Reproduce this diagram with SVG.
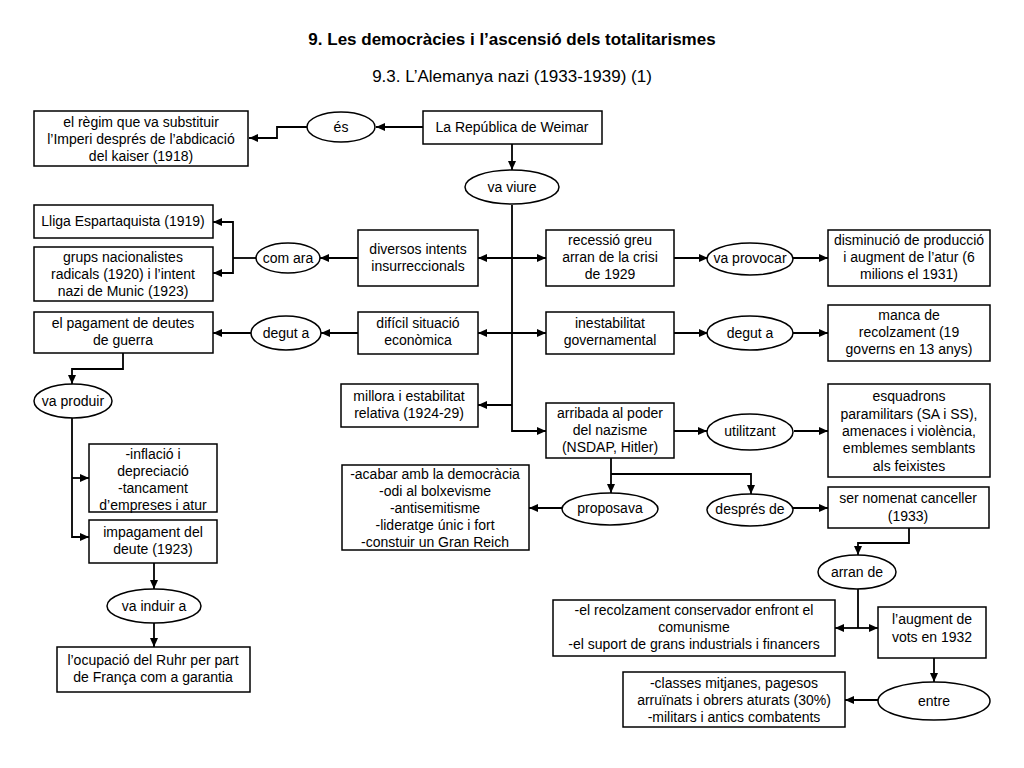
<svg xmlns="http://www.w3.org/2000/svg" width="1024" height="768" viewBox="0 0 1024 768">
<style>
.b{fill:#fff;stroke:#000;stroke-width:1.5}
.t{font-family:"Liberation Sans",Arial,sans-serif;font-size:14px;text-anchor:middle;fill:#000}
.h{font-family:"Liberation Sans",Arial,sans-serif;font-size:17px;text-anchor:middle;fill:#000}
.c{fill:none;stroke:#000;stroke-width:1.8}
.a{marker-end:url(#ah)}
</style>
<defs>
<marker id="ah" markerUnits="userSpaceOnUse" markerWidth="10" markerHeight="10" refX="9" refY="4" orient="auto" viewBox="0 0 10 8">
<path d="M0,0 L9,4 L0,8 Z" fill="#000"/>
</marker>
</defs>
<rect width="1024" height="768" fill="#fff"/>
<text class="h" x="512" y="45" font-weight="bold">9. Les democràcies i l’ascensió dels totalitarismes</text>
<text class="h" x="512" y="82">9.3. L’Alemanya nazi (1933-1939) (1)</text>

<g id="connectors">
<path class="c a" d="M423,127 H376"/>
<path class="c a" d="M307,127 H277 V138 H249"/>
<path class="c a" d="M512,144 V170"/>
<path class="c a" d="M512,205 V431 H546"/>
<path class="c a" d="M512,258 H478"/>
<path class="c a" d="M512,258 H546"/>
<path class="c a" d="M512,333 H478"/>
<path class="c a" d="M512,333 H546"/>
<path class="c a" d="M512,405 H478"/>
<path class="c a" d="M358,258 H320"/>
<path class="c" d="M256,258 H233"/>
<path class="c a" d="M233,258 V222 H213"/>
<path class="c a" d="M233,258 V273 H213"/>
<path class="c a" d="M674,258 H708"/>
<path class="c a" d="M793,258 H828"/>
<path class="c a" d="M674,333 H708"/>
<path class="c a" d="M793,333 H828"/>
<path class="c a" d="M358,333 H321"/>
<path class="c a" d="M251,333 H213"/>
<path class="c a" d="M123,353 V369 H72 V384"/>
<path class="c a" d="M72,418 V537 H89"/>
<path class="c a" d="M72,478 H89"/>
<path class="c a" d="M154,563 V589"/>
<path class="c a" d="M154,623 V647"/>
<path class="c a" d="M674,431 H707"/>
<path class="c a" d="M794,431 H828"/>
<path class="c a" d="M611,458 V493"/>
<path class="c a" d="M611,474 H751 V494"/>
<path class="c a" d="M562,508 H529"/>
<path class="c a" d="M793,508 H828"/>
<path class="c a" d="M909,528 V543 H858 V555"/>
<path class="c" d="M858,589 V628"/>
<path class="c a" d="M858,628 H835"/>
<path class="c a" d="M858,628 H878"/>
<path class="c a" d="M934,658 V682"/>
<path class="c a" d="M878,700 H845"/>
</g>

<g id="weimar"><rect class="b" x="423" y="111" width="179" height="33"/><text class="t" x="512" y="132">La República de Weimar</text></g>
<g id="es"><ellipse class="b" cx="341" cy="127" rx="34" ry="15"/><text class="t" x="341" y="132">és</text></g>
<g id="regim"><rect class="b" x="34" y="111" width="214" height="55"/>
<text class="t" x="141" y="127">el règim que va substituir</text>
<text class="t" x="141" y="144">l’Imperi després de l’abdicació</text>
<text class="t" x="141" y="161">del kaiser (1918)</text></g>
<g id="vaviure"><ellipse class="b" cx="512" cy="187" rx="47" ry="17"/><text class="t" x="512" y="192">va viure</text></g>

<g id="diversos"><rect class="b" x="358" y="230" width="120" height="56"/>
<text class="t" x="418" y="254">diversos intents</text>
<text class="t" x="418" y="271">insurreccionals</text></g>
<g id="comara"><ellipse class="b" cx="288" cy="258" rx="32" ry="15"/><text class="t" x="288" y="263">com ara</text></g>
<g id="lliga"><rect class="b" x="34" y="205" width="179" height="33"/><text class="t" x="123" y="226">Lliga Espartaquista (1919)</text></g>
<g id="grups"><rect class="b" x="34" y="247" width="179" height="54"/>
<text class="t" x="123" y="262">grups nacionalistes</text>
<text class="t" x="123" y="279">radicals (1920) i l’intent</text>
<text class="t" x="123" y="296">nazi de Munic (1923)</text></g>

<g id="recessio"><rect class="b" x="546" y="230" width="128" height="56"/>
<text class="t" x="610" y="245">recessió greu</text>
<text class="t" x="610" y="262">arran de la crisi</text>
<text class="t" x="610" y="279">de 1929</text></g>
<g id="vaprovocar"><ellipse class="b" cx="750" cy="259" rx="43" ry="16"/><text class="t" x="750" y="263">va provocar</text></g>
<g id="disminucio"><rect class="b" x="828" y="230" width="162" height="56"/>
<text class="t" x="909" y="245">disminució de producció</text>
<text class="t" x="909" y="262">i augment de l’atur (6</text>
<text class="t" x="909" y="279">milions el 1931)</text></g>

<g id="dificil"><rect class="b" x="358" y="312" width="120" height="42"/>
<text class="t" x="418" y="328">difícil situació</text>
<text class="t" x="418" y="345">econòmica</text></g>
<g id="degut1"><ellipse class="b" cx="286" cy="333" rx="35" ry="17"/><text class="t" x="286" y="338">degut a</text></g>
<g id="pagament"><rect class="b" x="34" y="312" width="179" height="41"/>
<text class="t" x="123" y="328">el pagament de deutes</text>
<text class="t" x="123" y="345">de guerra</text></g>
<g id="inestabilitat"><rect class="b" x="546" y="312" width="128" height="42"/>
<text class="t" x="610" y="328">inestabilitat</text>
<text class="t" x="610" y="345">governamental</text></g>
<g id="degut2"><ellipse class="b" cx="750" cy="333" rx="43" ry="17"/><text class="t" x="750" y="338">degut a</text></g>
<g id="manca"><rect class="b" x="828" y="305" width="162" height="56"/>
<text class="t" x="909" y="320">manca de</text>
<text class="t" x="909" y="337">recolzament (19</text>
<text class="t" x="909" y="354">governs en 13 anys)</text></g>

<g id="vaproduir"><ellipse class="b" cx="73" cy="401" rx="39" ry="17"/><text class="t" x="73" y="406">va produir</text></g>
<g id="inflacio"><rect class="b" x="89" y="444" width="128" height="68"/>
<text class="t" x="153" y="459">-inflació i</text>
<text class="t" x="153" y="476">depreciació</text>
<text class="t" x="153" y="493">-tancament</text>
<text class="t" x="153" y="510">d’empreses i atur</text></g>
<g id="impagament"><rect class="b" x="89" y="520" width="128" height="43"/>
<text class="t" x="153" y="537">impagament del</text>
<text class="t" x="153" y="554">deute (1923)</text></g>
<g id="vainduir"><ellipse class="b" cx="154" cy="606" rx="47" ry="17"/><text class="t" x="154" y="611">va induir a</text></g>
<g id="ocupacio"><rect class="b" x="57" y="647" width="193" height="45"/>
<text class="t" x="153" y="665">l’ocupació del Ruhr per part</text>
<text class="t" x="153" y="682">de França com a garantia</text></g>

<g id="millora"><rect class="b" x="341" y="384" width="137" height="43"/>
<text class="t" x="409" y="401">millora i estabilitat</text>
<text class="t" x="409" y="418">relativa (1924-29)</text></g>
<g id="arribada"><rect class="b" x="546" y="403" width="128" height="55"/>
<text class="t" x="610" y="418">arribada al poder</text>
<text class="t" x="610" y="435">del nazisme</text>
<text class="t" x="610" y="452">(NSDAP, Hitler)</text></g>
<g id="utilitzant"><ellipse class="b" cx="750" cy="432" rx="43" ry="18"/><text class="t" x="750" y="436">utilitzant</text></g>
<g id="esquadrons"><rect class="b" x="828" y="384" width="162" height="93"/>
<text class="t" x="909" y="401">esquadrons</text>
<text class="t" x="909" y="419">paramilitars (SA i SS),</text>
<text class="t" x="909" y="436">amenaces i violència,</text>
<text class="t" x="909" y="453">emblemes semblants</text>
<text class="t" x="909" y="471">als feixistes</text></g>

<g id="proposava"><ellipse class="b" cx="610" cy="509" rx="48" ry="16"/><text class="t" x="610" y="513">proposava</text></g>
<g id="acabar"><rect class="b" x="342" y="465" width="187" height="85"/>
<text class="t" x="435" y="479">-acabar amb la democràcia</text>
<text class="t" x="435" y="496">-odi al bolxevisme</text>
<text class="t" x="435" y="513">-antisemitisme</text>
<text class="t" x="435" y="530">-lideratge únic i fort</text>
<text class="t" x="435" y="547">-constuir un Gran Reich</text></g>
<g id="despres"><ellipse class="b" cx="750" cy="510" rx="43" ry="16"/><text class="t" x="750" y="514">després de</text></g>
<g id="nomenat"><rect class="b" x="828" y="487" width="161" height="41"/>
<text class="t" x="908" y="503">ser nomenat canceller</text>
<text class="t" x="908" y="521">(1933)</text></g>

<g id="arrande"><ellipse class="b" cx="857" cy="572" rx="39" ry="17"/><text class="t" x="857" y="577">arran de</text></g>
<g id="recolzament"><rect class="b" x="553" y="600" width="282" height="56"/>
<text class="t" x="694" y="615">-el recolzament conservador enfront el</text>
<text class="t" x="694" y="632">comunisme</text>
<text class="t" x="694" y="649">-el suport de grans industrials i financers</text></g>
<g id="augment"><rect class="b" x="878" y="607" width="108" height="51"/>
<text class="t" x="932" y="624">l’augment de</text>
<text class="t" x="932" y="642">vots en 1932</text></g>
<g id="entre"><ellipse class="b" cx="934" cy="701" rx="56" ry="19"/><text class="t" x="934" y="706">entre</text></g>
<g id="classes"><rect class="b" x="623" y="672" width="222" height="55"/>
<text class="t" x="734" y="688">-classes mitjanes, pagesos</text>
<text class="t" x="734" y="705">arruïnats i obrers aturats (30%)</text>
<text class="t" x="734" y="722">-militars i antics combatents</text></g>
</svg>
